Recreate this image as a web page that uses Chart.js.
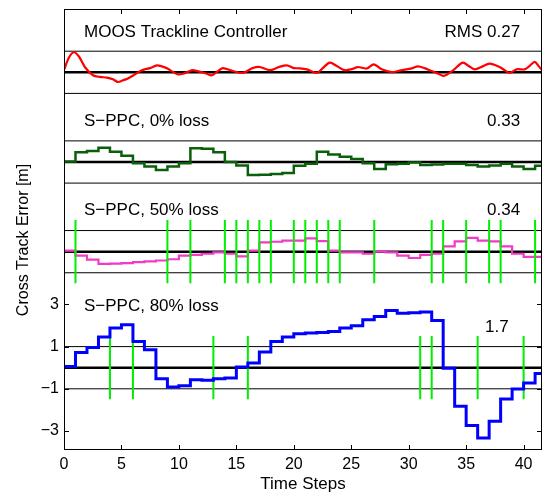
<!DOCTYPE html>
<html><head><meta charset="utf-8">
<script src="https://cdn.jsdelivr.net/npm/chart.js@4.4.0/dist/chart.umd.min.js"></script>
<style>html,body{margin:0;padding:0;background:#fff}#wrap{width:544px;height:494px}</style>
</head><body><div id="wrap"><canvas id="c" width="544" height="494"></canvas></div>
<script>
// ---------------- data ----------------
const steps = [0,1,2,3,4,5,6,7,8,9,10,11,12,13,14,15,16,17,18,19,20,21,22,23,24,25,26,27,28,29,30,31,32,33,34,35,36,37,38,39,40,41];

// MOOS trackline controller (continuous)
const mooX = [0,0.43,0.87,1.3,1.83,2.52,3.13,3.74,4.26,4.7,5.13,5.57,6.17,6.78,7.48,8.09,8.52,8.96,9.48,9.91,10.35,10.78,11.22,12.0,12.43,12.87,13.39,13.83,14.7,15.57,16.43,17.04,17.91,18.7,19.39,20.0,20.52,21.13,22.0,22.52,23.13,23.74,24.43,25.04,25.57,26.35,26.96,27.65,28.52,29.22,29.83,30.35,30.78,31.39,32.0,32.52,33.04,33.83,34.7,35.22,35.74,36.43,37.04,37.91,38.35,38.78,39.39,40.09,40.52,40.96,41.3,41.6];
const mooY = [0.1,0.7,0.95,0.75,0.24,-0.14,-0.22,-0.25,-0.33,-0.46,-0.38,-0.29,-0.1,0.1,0.2,0.33,0.28,0.19,0.02,-0.1,-0.07,0.02,0.1,0.0,-0.07,-0.14,0.05,0.2,0.06,-0.03,0.2,0.25,0.1,0.25,0.33,0.2,0.19,0.14,-0.03,0.2,0.46,0.3,0.1,0.15,0.25,0.18,0.38,0.14,0.01,0.08,0.14,0.2,0.28,0.2,0.06,-0.05,-0.17,0.08,0.46,0.3,0.14,0.28,0.41,0.25,0.1,-0.03,0.14,0.14,0.3,0.49,0.3,0.1];

// S-PPC step responses
const ppc0  = [0.02,0.46,0.52,0.68,0.49,0.30,-0.06,-0.22,-0.38,-0.22,-0.06,0.65,0.63,0.46,0.0,-0.17,-0.62,-0.6,-0.57,-0.52,-0.18,-0.08,0.49,0.36,0.25,0.14,-0.06,-0.33,-0.11,-0.08,-0.02,-0.14,-0.12,-0.08,-0.08,-0.14,-0.22,-0.17,-0.08,-0.22,-0.33,-0.18];
const ppc50 = [0.05,-0.19,-0.38,-0.58,-0.57,-0.54,-0.5,-0.46,-0.42,-0.36,-0.19,-0.15,-0.1,-0.03,-0.1,-0.22,0.05,0.44,0.47,0.52,0.52,0.63,0.5,0.05,-0.03,-0.03,-0.1,0.0,-0.03,-0.19,-0.3,-0.15,-0.1,0.25,0.49,0.65,0.52,0.49,0.25,-0.1,-0.25,-0.25];
const ppc80 = [0.06,0.72,0.96,1.45,1.88,2.03,1.24,0.85,-0.52,-0.91,-0.86,-0.57,-0.6,-0.52,-0.49,0.03,0.22,0.74,1.24,1.45,1.61,1.64,1.67,1.72,1.88,1.99,2.27,2.43,2.71,2.58,2.61,2.64,2.24,-0.02,-1.83,-2.74,-3.33,-2.54,-1.48,-1.01,-0.72,-0.28];

// steps at which a packet was received
const recv50 = [1,9,11,14,15,16,17,18,20,21,22,23,24,27,32,33,35,37,38,41];
const recv80 = [4,6,13,16,31,32,36,40];

// labels
const panelTitles = ["MOOS Trackline Controller", "S\u2212PPC, 0% loss", "S\u2212PPC, 50% loss", "S\u2212PPC, 80% loss"];
const rmsLabels = ["RMS 0.27", "0.33", "0.34", "1.7"];
const yTickValues = [-3, -1, 1, 3];
const xTitle = "Time Steps";
const yTitle = "Cross Track Error [m]";

// ---------------- layout / style ----------------
const panelOffsets = [14, 9.75, 5.5, 0];
const xMax = 41.6;
const titleDy = [1.69, 1.7, 1.74, 2.7];
const rmsDy = [1.69, 1.7, 1.74, 1.7];
const rmsRightX = [39.7, 39.7, 39.7, 38.7];
const FONT = "'Liberation Sans', Arial, Helvetica, sans-serif";

Chart.defaults.font.family = FONT;
Chart.defaults.color = '#000';

const datasets = [];
// reference lines for each panel
panelOffsets.forEach(off => {
  [1, -1].forEach(d => datasets.push({
    data: [{x: 0, y: off + d}, {x: xMax, y: off + d}],
    borderColor: '#000', borderWidth: 1, pointRadius: 0, order: 10
  }));
  datasets.push({
    data: [{x: 0, y: off}, {x: xMax, y: off}],
    borderColor: '#000', borderWidth: 2.5, pointRadius: 0, order: 9
  });
});

// MOOS
datasets.push({
  data: mooX.map((x, i) => ({x, y: panelOffsets[0] + mooY[i]})),
  borderColor: '#ff0000', borderWidth: 2.2, pointRadius: 0, tension: 0.3, order: 2
});

function stepData(vals, off) {
  const d = steps.map((s, i) => ({x: s, y: off + vals[i]}));
  d.push({x: xMax, y: off + vals[vals.length - 1]});
  return d;
}
datasets.push({data: stepData(ppc0, panelOffsets[1]), borderColor: '#0a5f0a', borderWidth: 2.5, pointRadius: 0, stepped: 'before', order: 2});
datasets.push({data: stepData(ppc50, panelOffsets[2]), borderColor: '#f23ac6', borderWidth: 2.2, pointRadius: 0, stepped: 'before', order: 2});
datasets.push({data: stepData(ppc80, panelOffsets[3]), borderColor: '#0000ff', borderWidth: 3, pointRadius: 0, stepped: 'before', order: 2});

function markerData(list, off) {
  return list.flatMap(s => [{x: s, y: off - 1.5}, {x: s, y: off + 1.5}, {x: s, y: null}]);
}
datasets.push({data: markerData(recv50, panelOffsets[2]), borderColor: '#00ee00', borderWidth: 2, pointRadius: 0, spanGaps: false, order: 1});
datasets.push({data: markerData(recv80, panelOffsets[3]), borderColor: '#00ee00', borderWidth: 2, pointRadius: 0, spanGaps: false, order: 3});

const overlay = {
  id: 'overlay',
  afterDatasetsDraw(chart) {
    const {ctx, chartArea: a, scales: {x, y}} = chart;
    ctx.save();
    ctx.strokeStyle = '#000';
    ctx.lineWidth = 1;
    ctx.strokeRect(a.left + 0.5, a.top + 0.5, a.right - a.left - 1, a.bottom - a.top - 1);
    ctx.beginPath();
    x.ticks.forEach(t => {
      const px = Math.round(x.getPixelForValue(t.value)) + 0.5;
      ctx.moveTo(px, a.bottom); ctx.lineTo(px, a.bottom - 5);
      ctx.moveTo(px, a.top); ctx.lineTo(px, a.top + 5);
    });
    y.ticks.forEach(t => {
      const py = Math.round(y.getPixelForValue(t.value)) + 0.5;
      ctx.moveTo(a.left, py); ctx.lineTo(a.left + 5, py);
      ctx.moveTo(a.right, py); ctx.lineTo(a.right - 5, py);
    });
    ctx.stroke();

    ctx.fillStyle = '#000';
    ctx.font = '17px ' + FONT;
    ctx.textBaseline = 'alphabetic';
    panelTitles.forEach((t, i) => {
      ctx.textAlign = 'left';
      ctx.fillText(t, x.getPixelForValue(1.74), y.getPixelForValue(panelOffsets[i] + titleDy[i]));
      ctx.textAlign = 'right';
      ctx.fillText(rmsLabels[i], x.getPixelForValue(rmsRightX[i]), y.getPixelForValue(panelOffsets[i] + rmsDy[i]));
    });

    ctx.textAlign = 'center';
    ctx.fillText(xTitle, (a.left + a.right) / 2, 489);
    ctx.font = '16px ' + FONT;
    ctx.translate(28, 240);
    ctx.rotate(-Math.PI / 2);
    ctx.fillText(yTitle, 0, 0);
    ctx.restore();
  }
};

new Chart(document.getElementById('c'), {
  type: 'line',
  data: {datasets},
  options: {
    responsive: false,
    animation: false,
    events: [],
    layout: {padding: {top: 9, right: 2, left: 0, bottom: 0}},
    plugins: {legend: {display: false}, tooltip: {enabled: false}},
    scales: {
      x: {
        type: 'linear', min: 0, max: xMax,
        grid: {display: false, drawTicks: false},
        border: {display: false},
        ticks: {stepSize: 5, includeBounds: false, padding: 5, font: {size: 16}, color: '#000', maxRotation: 0},
        afterFit: s => { s.height = 44; s.paddingLeft = 0; s.paddingRight = 0; }
      },
      y: {
        type: 'linear', min: -3.9, max: 17,
        grid: {display: false, drawTicks: false},
        border: {display: false},
        afterBuildTicks: s => { s.ticks = yTickValues.map(v => ({value: v})); },
        ticks: {padding: 5, font: {size: 16}, color: '#000',
          callback: v => (v < 0 ? '\u2212' + Math.abs(v) : String(v))},
        afterFit: s => { s.width = 64; s.paddingTop = 0; s.paddingBottom = 0; }
      }
    }
  },
  plugins: [overlay]
});
</script>
</body></html>
